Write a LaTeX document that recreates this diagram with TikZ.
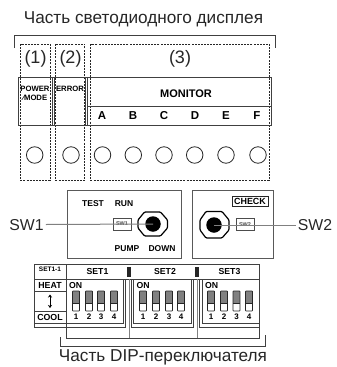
\documentclass[tikz,border=0pt]{standalone}
\usepackage{fontspec}
\usetikzlibrary{calc,arrows.meta}
\setmainfont{Liberation Sans}
\tikzset{
  x=1pt,y=-1pt,
  ln/.style={draw=black!75,line width=0.9pt},
  thick1/.style={draw=black!65,line width=0.95pt},
  dash1/.style={draw=black!85,line width=0.7pt,dash pattern=on 2pt off 1.1pt},
  leader/.style={draw=black!50,line width=1pt},
  big/.style={font=\fontsize{17.2}{19}\selectfont,inner sep=0pt,text=black!85},
  paren/.style={font=\fontsize{18}{20}\selectfont,inner sep=0pt,text=black!85},
  lab/.style={font=\fontsize{15.8}{17}\selectfont,inner sep=0pt,text=black!85},
  bold1/.style={font=\fontsize{8.7}{9}\selectfont\bfseries,inner sep=0pt},
  boldmon/.style={font=\fontsize{11}{12}\selectfont\bfseries,inner sep=0pt},
  bold2/.style={font=\fontsize{7.7}{9}\selectfont\bfseries,inner sep=0pt,align=center},
  bold3/.style={font=\fontsize{11.5}{12}\selectfont\bfseries,inner sep=0pt},
  boldsw/.style={font=\fontsize{8.5}{9}\selectfont\bfseries,inner sep=0pt},
  boldrow/.style={font=\fontsize{8.8}{9}\selectfont\bfseries,inner sep=0pt},
  tiny1/.style={font=\fontsize{5.5}{6}\selectfont\bfseries,inner sep=0pt,text=black!70},
  led/.style={circle,draw=black!85,line width=0.8pt,minimum size=16.5pt,inner sep=0pt},
  dipcell/.style={draw=black!85,line width=0.7pt},
  knobshape/.style={draw=black,line width=1.2pt,fill=white,rounded corners=1pt},
  knobcore/.style={circle,fill=black,minimum size=15.5pt,inner sep=0pt},
  swbox/.style={draw=black!70,line width=0.6pt,minimum width=18pt,inner sep=0pt,tiny1},
}
\newcommand{\dipsw}[2]{%
  \fill[black!50] (#1-3.5,291) rectangle (#1+3.5,303);
  \draw[dipcell,rounded corners=0.6pt] (#1-3.5,291) rectangle (#1+3.5,311);
  \draw[dipcell] (#1-3.5,303) -- (#1+3.5,303);
  \node[boldrow,font=\fontsize{8}{9}\selectfont\bfseries] at (#1,317) {#2};
}
\begin{document}
\begin{tikzpicture}
\useasboundingbox (0,0) rectangle (337,367);
\node[big] (title) at (143.5,19.5) {Часть светодиодного дисплея};
% top bracket
\draw[ln] (14,48) -- (14,35) -- (275.5,35) -- (275.5,48);
% dashed zones
\draw[dash1] (20.5,44) rectangle (50,180.5);
\draw[dash1] (55.5,44) rectangle (84.5,180.5);
\draw[dash1] (90.5,44) rectangle (269,180.5);
\node[paren] at (35.5,58.5) {(1)};
\node[paren] at (70.5,58.5) {(2)};
\node[paren] at (180,58.5) {(3)};
% panel
\draw[ln] (18,77) rectangle (271.5,125);
\draw[ln] (52.5,77) -- (52.5,125) (54.5,77) -- (54.5,125);
\draw[ln] (85,77) -- (85,125) (87,77) -- (87,125);
\draw[ln] (87,106.5) -- (271.5,106.5);
\node[bold2] at (35,93.5) {POWER\\ ⁄MODE};
\node[bold2] at (70,89) {ERROR};
\node[boldmon] at (186,94) {MONITOR};
\foreach \t/\x in {A/102,B/133,C/164,D/195,E/226,F/257}
  \node[bold3] at (\x,115.5) {\t};
% LEDs
\foreach \n/\x in {p/34.7,e/71,a/102.5,b/133.3,c/164,d/194.7,f/226,g/258}
  \node[led] (led\n) at (\x,155) {};
% switch boxes
\draw[thick1] (67,190) rectangle (181,258);
\draw[thick1] (192.5,190) rectangle (273,258);
\node[boldsw] at (93,204) {TEST};
\node[boldsw] at (124,204) {RUN};
\node[boldsw] at (127,249) {PUMP};
\node[boldsw] at (162,249) {DOWN};
\node[swbox,minimum height=12pt] (swa) at (122,224) {SW1};
\node[swbox,minimum height=12.5pt] (swb) at (245,224.5) {SW2};
\node[draw=black!85,line width=0.8pt,minimum width=36pt,minimum height=10pt,inner sep=0pt,font=\fontsize{8.9}{9}\selectfont\bfseries] (check) at (250,201) {CHECK};
% knob SW1
\draw[knobshape] (144.5,212) -- (160.5,212) -- (167.5,220) -- (167.5,228) -- (160.5,236) -- (144.5,236) -- (138,228) -- (138,220) -- cycle;
\node[knobcore] (knoba) at (153,224) {};
% knob SW2
\draw[knobshape] (206,211.5) -- (222,211.5) -- (229,220) -- (229,230) -- (222,238) -- (206,238) -- (200,230) -- (200,220) -- cycle;
\node[knobcore] (knobb) at (214,225) {};
% leaders
\node[lab] (sw1) at (26.5,225) {SW1};
\node[lab] (sw2) at (315,225) {SW2};
\draw[leader] ($(sw1.east)+(2,-0.5)$) -- (knoba.center);
\draw[leader] (knobb.center) -- ($(sw2.west)+(-2,0)$);
% DIP section
\draw[ln] (34,264) rectangle (66,327);
\draw[ln] (34,279) -- (66,279) (34,291.5) -- (66,291.5) (34,311) -- (66,311) (34,323) -- (66,323);
\node[font=\fontsize{6.5}{7}\selectfont\bfseries,inner sep=0pt] at (50,269) {SET1-1};
\node[boldrow] at (50,285.5) {HEAT};
\node[boldrow] at (50,317.5) {COOL};
\draw[black,line width=0.8pt,{Stealth[length=3pt,width=4pt]}-{Stealth[length=3pt,width=4pt]}] (50,294.5) -- (50,308);
% set header
\draw[ln] (66,264) rectangle (259,279);
\fill[black!85] (127,266.5) rectangle (131,277);
\fill[black!85] (195,266.5) rectangle (199,277);
\node[bold1] at (97.5,272) {SET1};
\node[bold1] at (165,272) {SET2};
\node[bold1] at (229.5,272) {SET3};
% panels
\draw[ln] (66,327) -- (125,327) -- (125,279);
\draw[ln] (66,323) -- (123,323) -- (123,279);
\draw[ln] (131,279) -- (131,327) -- (193,327) -- (193,279);
\draw[ln] (133.5,279) -- (133.5,323) -- (191,323) -- (191,279);
\draw[ln] (199,279) -- (199,327) -- (259,327);
\draw[ln] (202,279) -- (202,323.5) -- (259,323.5);
\draw[ln] (66,327) -- (66,338) -- (259,338) -- (259,279);
\draw[leader] (129,279) -- (129,338);
\draw[leader] (197,279) -- (197,338);
\node[bold1,anchor=west] at (69,285.5) {ON};
\node[bold1,anchor=west] at (136.5,285.5) {ON};
\node[bold1,anchor=west] at (205,285.5) {ON};
\foreach \x/\n in {76/1,89/2,101/3,114/4,143/1,156/2,169/3,181/4,211/1,224/2,236.5/3,249/4}
  {\dipsw{\x}{\n}}
% bottom bracket
\draw[ln] (60,337) -- (60,346) -- (265,346) -- (265,335);
\node[big] (dip) at (163,357.5) {Часть DIP-переключателя};
\end{tikzpicture}
\end{document}
